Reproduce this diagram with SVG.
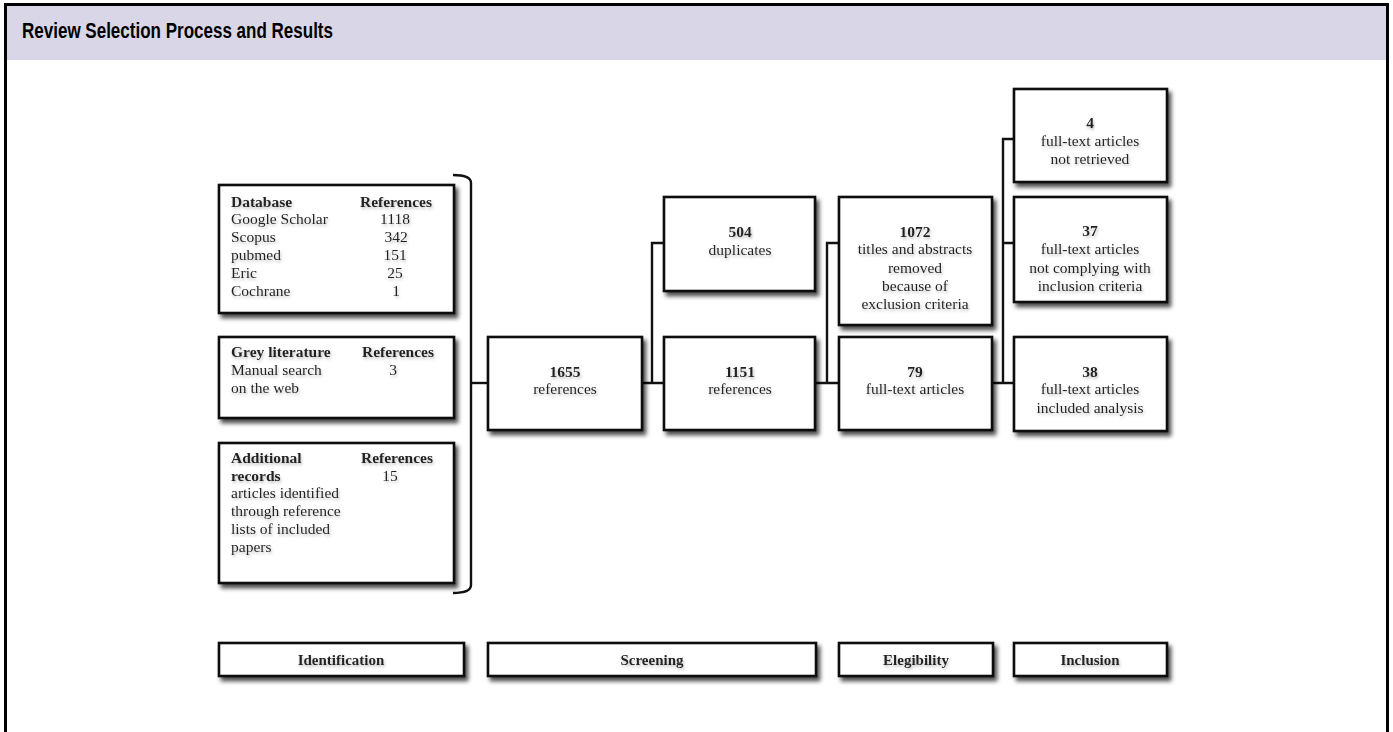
<svg xmlns="http://www.w3.org/2000/svg" width="1393" height="732" viewBox="0 0 1393 732">
<defs>
<filter id="sh" x="-10%" y="-10%" width="130%" height="140%">
<feDropShadow dx="3" dy="4" stdDeviation="2.2" flood-color="#000" flood-opacity="0.7"/>
</filter>
<filter id="tsh" x="-10%" y="-30%" width="120%" height="180%">
<feDropShadow dx="1" dy="2" stdDeviation="1.6" flood-color="#888" flood-opacity="0.55"/>
</filter>
<style>
.box{fill:#fff;stroke:#111;stroke-width:2.6;filter:url(#sh)}
.t{font-family:"Liberation Serif","DejaVu Serif",serif;font-size:15.5px;fill:#222;filter:url(#tsh)}
.b{font-weight:bold}
.c{text-anchor:middle}
.ph{font-family:"Liberation Serif","DejaVu Serif",serif;font-size:15px;font-weight:bold;fill:#222;text-anchor:middle;filter:url(#tsh)}
.ln{fill:none;stroke:#111;stroke-width:2.4}
</style>
</defs>
<rect x="0" y="0" width="1393" height="732" fill="#fff"/>
<rect x="6" y="6" width="1381" height="54" fill="#d9d7e7"/>
<path d="M5.5,732 V4.5 H1387.5 V732" fill="none" stroke="#000" stroke-width="3"/>
<text x="22" y="38" font-family="'Liberation Sans',Arial,sans-serif" font-weight="bold" font-size="22" textLength="311" lengthAdjust="spacingAndGlyphs" fill="#000">Review Selection Process and Results</text>

<g id="connectors">
<path class="ln" d="M453,175 Q471,175 471,183 V585 Q471,593 453,593"/>
<path class="ln" d="M471,383 H488"/>
<path class="ln" d="M642,383 H664 M652,383 V243 H664"/>
<path class="ln" d="M815,383 H839 M827,383 V243 H839"/>
<path class="ln" d="M992,383 H1014 M1003,383 V139 H1014 M1003,243 H1014"/>
</g>

<g id="database">
<rect class="box" x="219" y="185" width="235" height="128"/>
<text class="t b" x="231" y="207">Database</text>
<text class="t b c" x="396" y="207">References</text>
<text class="t" x="231" y="224">Google Scholar</text>
<text class="t c" x="395" y="224">1118</text>
<text class="t" x="231" y="242">Scopus</text>
<text class="t c" x="396" y="242">342</text>
<text class="t" x="231" y="260">pubmed</text>
<text class="t c" x="395" y="260">151</text>
<text class="t" x="231" y="278">Eric</text>
<text class="t c" x="395" y="278">25</text>
<text class="t" x="231" y="296">Cochrane</text>
<text class="t c" x="396" y="296">1</text>
</g>

<g id="grey">
<rect class="box" x="219" y="337" width="235" height="81"/>
<text class="t b" x="231" y="357">Grey literature</text>
<text class="t b c" x="398" y="357">References</text>
<text class="t" x="231" y="375">Manual search</text>
<text class="t c" x="393" y="375">3</text>
<text class="t" x="231" y="393">on the web</text>
</g>

<g id="additional">
<rect class="box" x="219" y="443" width="235" height="140"/>
<text class="t b" x="231" y="463">Additional</text>
<text class="t b c" x="397" y="463">References</text>
<text class="t b" x="231" y="481">records</text>
<text class="t c" x="390" y="481">15</text>
<text class="t" x="231" y="498">articles identified</text>
<text class="t" x="231" y="516">through reference</text>
<text class="t" x="231" y="534">lists of included</text>
<text class="t" x="231" y="552">papers</text>
</g>

<g id="n1655">
<rect class="box" x="488" y="337" width="154" height="93"/>
<text class="t b c" x="565" y="377">1655</text>
<text class="t c" x="565" y="394">references</text>
</g>

<g id="n504">
<rect class="box" x="664" y="197" width="151" height="94"/>
<text class="t b c" x="740" y="237">504</text>
<text class="t c" x="740" y="255">duplicates</text>
</g>

<g id="n1151">
<rect class="box" x="664" y="337" width="151" height="93"/>
<text class="t b c" x="740" y="377">1151</text>
<text class="t c" x="740" y="394">references</text>
</g>

<g id="n1072">
<rect class="box" x="839" y="197" width="153" height="128"/>
<text class="t b c" x="915" y="237">1072</text>
<text class="t c" x="915" y="254">titles and abstracts</text>
<text class="t c" x="915" y="273">removed</text>
<text class="t c" x="915" y="291">because of</text>
<text class="t c" x="915" y="309">exclusion criteria</text>
</g>

<g id="n79">
<rect class="box" x="839" y="337" width="153" height="93"/>
<text class="t b c" x="915" y="377">79</text>
<text class="t c" x="915" y="394">full-text articles</text>
</g>

<g id="n4">
<rect class="box" x="1014" y="89" width="153" height="93"/>
<text class="t b c" x="1090" y="128">4</text>
<text class="t c" x="1090" y="146">full-text articles</text>
<text class="t c" x="1090" y="164">not retrieved</text>
</g>

<g id="n37">
<rect class="box" x="1014" y="197" width="153" height="105"/>
<text class="t b c" x="1090" y="236">37</text>
<text class="t c" x="1090" y="254">full-text articles</text>
<text class="t c" x="1090" y="273">not complying with</text>
<text class="t c" x="1090" y="291">inclusion criteria</text>
</g>

<g id="n38">
<rect class="box" x="1014" y="337" width="153" height="94"/>
<text class="t b c" x="1090" y="377">38</text>
<text class="t c" x="1090" y="394">full-text articles</text>
<text class="t c" x="1090" y="413">included analysis</text>
</g>

<g id="identification">
<rect class="box" x="219" y="643" width="245" height="33"/>
<text class="ph" x="341" y="665">Identification</text>
</g>
<g id="screening">
<rect class="box" x="488" y="643" width="328" height="33"/>
<text class="ph" x="652" y="665">Screening</text>
</g>
<g id="elegibility">
<rect class="box" x="839" y="643" width="154" height="33"/>
<text class="ph" x="916" y="665">Elegibility</text>
</g>
<g id="inclusion">
<rect class="box" x="1014" y="643" width="153" height="33"/>
<text class="ph" x="1090" y="665">Inclusion</text>
</g>
</svg>
